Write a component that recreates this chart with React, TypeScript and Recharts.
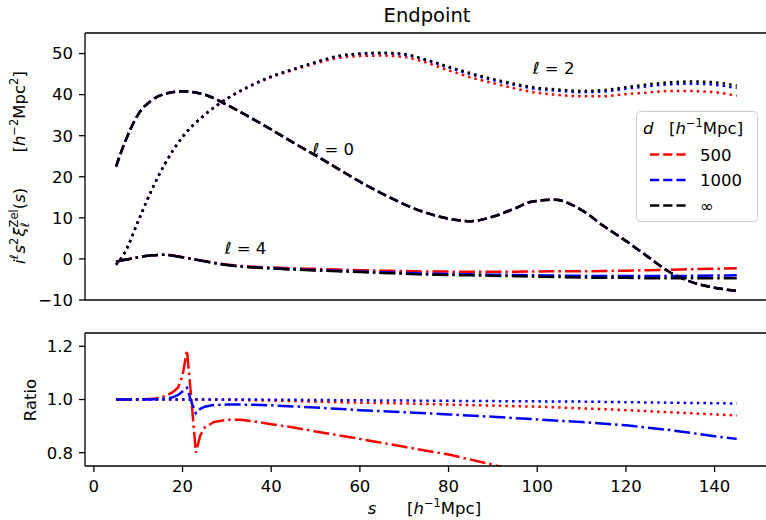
import { LineChart, Line, XAxis, YAxis, ReferenceDot } from 'recharts';

const FONT = '"DejaVu Sans", sans-serif';
const RED = '#ff0000';
const BLUE = '#0000ff';
const BLACK = '#000000';
const FS = 16.5;
const SUP = 11.5;

// matplotlib-like line styles at lw=1.5 (~2.5px here)
const LW = 2.5;
const DASHED = '9.2 4';
const DOTTED = '2.5 4.1';
const DASHDOT = '16 4 2.5 4';

// top panel: i^l s^2 xi_l(s)
const sTop = [5, 7, 10, 13, 16, 20, 25, 30, 35, 40, 45, 50, 55, 60, 65, 70, 75, 80, 85, 90, 95, 99, 104, 110, 115, 120, 125, 130, 135, 140, 145];

// l = 0: the three d values coincide
const xi0 = [22.5, 28.4, 35.2, 38.6, 40.2, 40.8, 40.0, 37.5, 34.6, 31.5, 28.3, 25.2, 22.0, 18.8, 15.9, 13.3, 11.2, 9.8, 9.2, 10.3, 12.3, 14.0, 14.4, 11.9, 8.0, 4.4, 0.5, -3.3, -5.7, -7.0, -7.8];

const xi2Red = [-1.4, 1.6, 9.2, 16.7, 23.1, 29.7, 35.1, 38.95, 41.9, 44.25, 46.0, 47.6, 48.9, 49.4, 49.5, 49.15, 47.8, 45.9, 44.2, 42.8, 41.5, 40.6, 40.0, 39.6, 39.6, 40.1, 40.5, 40.9, 40.85, 40.6, 39.7];
const xi2Blue = [-1.4, 1.6, 9.2, 16.7, 23.1, 29.7, 35.1, 39.0, 42.0, 44.4, 46.2, 47.85, 49.3, 49.9, 50.05, 49.7, 48.35, 46.6, 44.95, 43.55, 42.35, 41.5, 41.0, 40.6, 40.75, 41.4, 42.05, 42.5, 42.65, 42.4, 41.6];
const xi2Black = [-1.4, 1.6, 9.2, 16.7, 23.1, 29.7, 35.1, 39.0, 42.0, 44.4, 46.2, 47.9, 49.4, 50.0, 50.2, 49.9, 48.5, 46.8, 45.2, 43.8, 42.6, 41.8, 41.3, 40.9, 41.1, 41.8, 42.5, 43.0, 43.2, 43.0, 42.2];

const xi4Red = [-0.7, -0.2, 0.4, 0.9, 1.01, 0.44, -0.5, -1.38, -1.84, -2.09, -2.3, -2.42, -2.6, -2.73, -2.85, -2.96, -3.05, -3.09, -3.1, -3.1, -3.1, -3.05, -3.0, -3.0, -2.95, -2.85, -2.75, -2.65, -2.5, -2.4, -2.3];
const xi4Blue = [-0.7, -0.2, 0.4, 0.9, 1.0, 0.4, -0.6, -1.47, -1.96, -2.25, -2.53, -2.72, -2.9, -3.07, -3.24, -3.42, -3.59, -3.68, -3.76, -3.83, -3.9, -3.98, -4.05, -4.12, -4.18, -4.15, -4.18, -4.16, -4.12, -4.05, -4.0];
const xi4Black = [-0.7, -0.2, 0.4, 0.9, 1.0, 0.4, -0.6, -1.5, -2.0, -2.3, -2.6, -2.8, -3.0, -3.2, -3.4, -3.6, -3.8, -3.9, -4.0, -4.1, -4.2, -4.3, -4.4, -4.5, -4.6, -4.6, -4.7, -4.7, -4.7, -4.7, -4.7];

// bottom panel: ratio to d = infinity
const sRatio = [5, 8, 11, 14, 16, 17, 18, 19, 20, 21, 22, 23, 24, 25, 27, 30, 33, 36, 40, 45, 50, 60, 70, 80, 90, 100, 110, 120, 130, 140, 145];
const ratio2Red = [1, 1, 1, 1, 1, 1, 1, 1, 1, 1, 1, 1, 1, 1, 0.999, 0.999, 0.998, 0.997, 0.996, 0.994, 0.992, 0.988, 0.985, 0.981, 0.977, 0.973, 0.967, 0.96, 0.952, 0.944, 0.94];
const ratio2Blue = [1, 1, 1, 1, 1, 1, 1, 1, 1, 1, 1, 1, 1, 1, 1, 1, 1, 1, 0.999, 0.999, 0.998, 0.997, 0.996, 0.995, 0.994, 0.993, 0.992, 0.99, 0.988, 0.986, 0.985];
const ratio4Red = [1.0, 1.0, 1.001, 1.004, 1.012, 1.02, 1.03, 1.045, 1.09, 1.185, 1.0, 0.8, 0.865, 0.895, 0.915, 0.924, 0.924, 0.918, 0.907, 0.895, 0.88, 0.852, 0.822, 0.793, 0.755, 0.71, 0.67, 0.62, 0.57, 0.52, 0.49];
const ratio4Blue = [1.0, 1.0, 1.0, 1.001, 1.003, 1.005, 1.01, 1.017, 1.03, 1.044, 0.99, 0.948, 0.965, 0.973, 0.979, 0.981, 0.981, 0.98, 0.978, 0.974, 0.97, 0.96, 0.952, 0.944, 0.935, 0.925, 0.915, 0.903, 0.885, 0.862, 0.852];

const xTicks = [0, 20, 40, 60, 80, 100, 120, 140];
const topTicks = [-10, 0, 10, 20, 30, 40, 50];
const ratioTicks = [0.8, 1.0, 1.2];
const X_DOMAIN = [-2, 152.5];

const legendItems = [
  { label: '500', color: RED },
  { label: '1000', color: BLUE },
  { label: '\u221E', color: BLACK },
];

const topData = sTop.map((s, i) => ({
  s,
  l0: xi0[i],
  l2r: xi2Red[i], l2b: xi2Blue[i], l2k: xi2Black[i],
  l4r: xi4Red[i], l4b: xi4Blue[i], l4k: xi4Black[i],
}));

const ratioData = sRatio.map((s, i) => ({
  s,
  r2r: ratio2Red[i], r2b: ratio2Blue[i],
  r4r: ratio4Red[i], r4b: ratio4Blue[i],
}));

const minus = (v: number) => String(v).replace('-', '\u2212');
const tickStyle = { fill: '#000', fontSize: FS, fontFamily: FONT };
const axisLine = { stroke: '#000', strokeWidth: 1.3 };
const tickLine = { stroke: '#000', strokeWidth: 1.3 };

const line = (key: string, color: string, dash: string, type: 'monotone' | 'linear' = 'monotone') => (
  <Line
    key={key + color}
    type={type}
    dataKey={key}
    stroke={color}
    strokeWidth={LW}
    strokeDasharray={dash}
    dot={false}
    activeDot={false}
    isAnimationActive={false}
  />
);

const annot = (x: number, y: number, text: string) => (
  <ReferenceDot
    x={x}
    y={y}
    r={0}
    fill="none"
    stroke="none"
    label={{ value: text, position: 'center', fill: '#000', fontSize: FS, fontFamily: FONT }}
  />
);

// superscript helper for the h^-n Mpc units
const units = (pow: string, mpcPow?: string) => (
  <>
    <tspan>[</tspan>
    <tspan fontStyle="italic">h</tspan>
    <tspan dy={-7} fontSize={SUP}>{pow}</tspan>
    <tspan dy={7}>Mpc</tspan>
    {mpcPow && <tspan dy={-7} fontSize={SUP}>{mpcPow}</tspan>}
    <tspan dy={mpcPow ? 7 : 0}>]</tspan>
  </>
);

export default function App() {
  return (
    <div style={{ position: 'absolute', left: 0, top: 0, width: 766, height: 520, overflow: 'hidden', background: '#fff', fontFamily: FONT }}>
      <div style={{ position: 'absolute', left: 0, top: 0 }}>
        <LineChart width={800} height={320} data={topData} margin={{ top: 32, right: 30, bottom: 19, left: 0 }}>
          <XAxis dataKey="s" type="number" domain={X_DOMAIN} height={1} tick={false} tickLine={false} axisLine={axisLine} />
          <XAxis xAxisId="top" orientation="top" dataKey="s" type="number" domain={X_DOMAIN} height={1} tick={false} tickLine={false} axisLine={axisLine} />
          <YAxis
            type="number"
            domain={[-10, 55]}
            ticks={topTicks}
            width={85}
            allowDataOverflow
            tick={tickStyle}
            tickLine={tickLine}
            tickSize={6}
            tickMargin={6}
            axisLine={axisLine}
            tickFormatter={minus}
          />
          {line('l0', RED, DASHED)}
          {line('l2r', RED, DOTTED)}
          {line('l4r', RED, DASHDOT)}
          {line('l0', BLUE, DASHED)}
          {line('l2b', BLUE, DOTTED)}
          {line('l4b', BLUE, DASHDOT)}
          {line('l0', BLACK, DASHED)}
          {line('l2k', BLACK, DOTTED)}
          {line('l4k', BLACK, DASHDOT)}
          {annot(54, 26.8, '\u2113 = 0')}
          {annot(103.7, 46.5, '\u2113 = 2')}
          {annot(34.2, 2.7, '\u2113 = 4')}
        </LineChart>
      </div>

      <div style={{ position: 'absolute', left: 0, top: 320 }}>
        <LineChart width={800} height={200} data={ratioData} margin={{ top: 12, right: 30, bottom: 0, left: 0 }}>
          <XAxis
            dataKey="s"
            type="number"
            domain={X_DOMAIN}
            ticks={xTicks}
            height={54}
            tick={tickStyle}
            tickLine={tickLine}
            tickSize={6}
            tickMargin={8}
            axisLine={axisLine}
          />
          <XAxis xAxisId="top" orientation="top" dataKey="s" type="number" domain={X_DOMAIN} height={1} tick={false} tickLine={false} axisLine={axisLine} />
          <YAxis
            type="number"
            domain={[0.75, 1.25]}
            ticks={ratioTicks}
            width={85}
            allowDataOverflow
            tick={tickStyle}
            tickLine={tickLine}
            tickSize={6}
            tickMargin={6}
            axisLine={axisLine}
            tickFormatter={(v: number) => v.toFixed(1)}
          />
          {line('r2r', RED, DOTTED, 'linear')}
          {line('r4r', RED, DASHDOT, 'linear')}
          {line('r2b', BLUE, DOTTED, 'linear')}
          {line('r4b', BLUE, DASHDOT, 'linear')}
        </LineChart>
      </div>

      <svg width={766} height={520} style={{ position: 'absolute', left: 0, top: 0, pointerEvents: 'none' }} fontFamily={FONT} fill="#000">
        <text x={427} y={21.7} textAnchor="middle" fontSize={19.5}>Endpoint</text>

        <text transform="translate(24.5,167.5) rotate(-90)" textAnchor="middle" fontSize={FS}>
          <tspan fontStyle="italic">i</tspan>
          <tspan dy={-7} fontSize={SUP} fontStyle="italic">{'\u2113'}</tspan>
          <tspan dy={7} dx={1} fontStyle="italic">s</tspan>
          <tspan dy={-7} fontSize={SUP}>2</tspan>
          <tspan dy={7} dx={1} fontStyle="italic">{'\u03BE'}</tspan>
          <tspan dy={-7} fontSize={SUP}>Zel</tspan>
          <tspan dy={11} dx={-18.1} fontSize={SUP} fontStyle="italic">{'\u2113'}</tspan>
          <tspan dy={-4} dx={13.3}>(</tspan>
          <tspan fontStyle="italic">s</tspan>
          <tspan>)</tspan>
          <tspan dx={30}> </tspan>
          {units('\u22122', '2')}
        </text>

        <text transform="translate(36,400) rotate(-90)" textAnchor="middle" fontSize={FS}>Ratio</text>

        <text x={372} y={514} textAnchor="middle" fontSize={FS} fontStyle="italic">s</text>
        <text x={407} y={514} fontSize={FS}>{units('\u22121')}</text>

        <rect x={636.5} y={111.5} width={121} height={110} rx={4} fill="#fff" fillOpacity={0.8} stroke="#cccccc" strokeWidth={1} />
        <text x={643} y={133.7} fontSize={FS} fontStyle="italic">d</text>
        <text x={669} y={133.7} fontSize={FS}>{units('\u22121')}</text>
        {legendItems.map((it, i) => {
          const y = 154.5 + i * 25.5;
          return (
            <g key={it.label}>
              <line x1={650} x2={686} y1={y} y2={y} stroke={it.color} strokeWidth={LW} strokeDasharray={DASHED} />
              <text x={700} y={y + 6} fontSize={FS}>{it.label}</text>
            </g>
          );
        })}
      </svg>
    </div>
  );
}
